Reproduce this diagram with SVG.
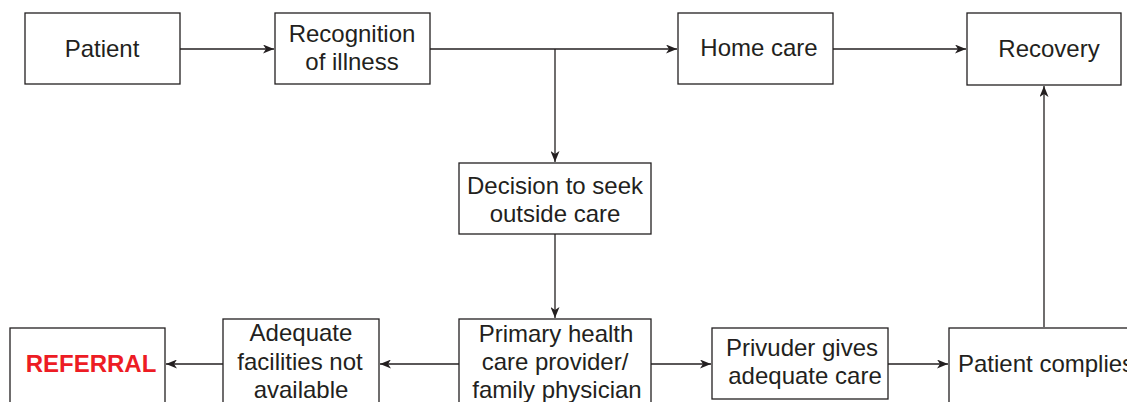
<svg xmlns="http://www.w3.org/2000/svg" width="1127" height="402" viewBox="0 0 1127 402">
<style>
.box{fill:#fff;stroke:#231f20;stroke-width:1.3}
.t{font-family:"Liberation Sans",Arial,sans-serif;font-size:24px;fill:#231f20;text-anchor:middle}
.red{font-weight:bold;fill:#ed1c24;font-size:24px}
.c{fill:none;stroke:#231f20;stroke-width:1.3}
</style>
<defs>
<marker id="ah" viewBox="0 0 11 9" refX="11" refY="4.5" markerWidth="11" markerHeight="9" markerUnits="userSpaceOnUse" orient="auto">
<path d="M0,0 L11,4.5 L0,9 L3,4.5 Z" fill="#231f20"/>
</marker>
</defs>
<rect width="1127" height="402" fill="#fff"/>
<g id="connectors">
<path class="c" d="M180,49 H274" marker-end="url(#ah)"/>
<path class="c" d="M430,49 H677" marker-end="url(#ah)"/>
<path class="c" d="M555,49 V162" marker-end="url(#ah)"/>
<path class="c" d="M833,49 H966" marker-end="url(#ah)"/>
<path class="c" d="M555,234 V318" marker-end="url(#ah)"/>
<path class="c" d="M459,364 H380" marker-end="url(#ah)"/>
<path class="c" d="M223,364 H166" marker-end="url(#ah)"/>
<path class="c" d="M651,364 H711" marker-end="url(#ah)"/>
<path class="c" d="M888,364 H948" marker-end="url(#ah)"/>
<path class="c" d="M1044,327 V86" marker-end="url(#ah)"/>
</g>
<g id="patient"><rect class="box" x="25" y="13" width="155" height="71"/><text class="t" x="102" y="57">Patient</text></g>
<g id="recognition"><rect class="box" x="275" y="13" width="155" height="71"/><text class="t" x="352" y="42">Recognition</text><text class="t" x="352" y="70">of illness</text></g>
<g id="homecare"><rect class="box" x="678" y="13" width="155" height="71"/><text class="t" x="759" y="56">Home care</text></g>
<g id="recovery"><rect class="box" x="967" y="13" width="154" height="72"/><text class="t" x="1049" y="57">Recovery</text></g>
<g id="decision"><rect class="box" x="459" y="163" width="192" height="71"/><text class="t" x="555" y="194">Decision to seek</text><text class="t" x="555" y="222">outside care</text></g>
<g id="primary"><rect class="box" x="459" y="319" width="192" height="90"/><text class="t" x="556" y="342">Primary health</text><text class="t" x="555" y="370">care provider/</text><text class="t" x="557" y="398">family physician</text></g>
<g id="adequate"><rect class="box" x="223" y="319" width="156" height="90"/><text class="t" x="301" y="341">Adequate</text><text class="t" x="300" y="370">facilities not</text><text class="t" x="301" y="398">available</text></g>
<g id="referral"><rect class="box" x="10" y="328" width="155" height="80"/><text class="t red" x="91" y="372">REFERRAL</text></g>
<g id="privuder"><rect class="box" x="712" y="328" width="176" height="71"/><text class="t" x="802" y="356">Privuder gives</text><text class="t" x="805" y="384">adequate care</text></g>
<g id="complies"><rect class="box" x="949" y="328" width="190" height="80"/><text class="t" x="958" y="372" style="text-anchor:start">Patient complies</text></g>
</svg>
